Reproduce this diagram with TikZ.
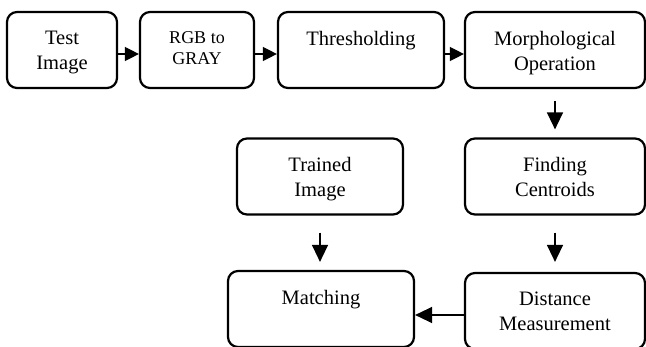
\documentclass[tikz,border=0pt]{standalone}
\usepackage{fontspec}
\setmainfont{Liberation Serif}
\usetikzlibrary{arrows.meta}
\tikzset{stage/.style = {draw, line width = 2.2pt, rounded corners = 10pt,
                         minimum height = 76pt, inner sep = 0}}
\tikzset{caption/.style = {anchor = north, yshift = -20pt, align = center, inner sep = 0,
                           font = \fontsize{20.5}{25}\selectfont}}
\tikzset{small caption/.style = {caption, font = \fontsize{18}{21}\selectfont}}
\tikzset{flow/.style = {-{Triangle[length = 14pt, width = 14pt]}, line width = 1.4pt}}
\tikzset{flow down/.style = {flow, -{Triangle[length = 17pt, width = 16pt]}}}

\begin{document}
\begin{tikzpicture}[x = 1pt, y = 1pt]
      \useasboundingbox (0, 0) rectangle (646, 346);

      % top row
      \node [stage, minimum width = 110pt, label = {[caption]north:Test\\Image}] (test) at (62, 296) {};
      \node [stage, minimum width = 114pt, label = {[small caption]north:RGB to\\GRAY}] (rgb) at (197, 296) {};
      \node [stage, minimum width = 166pt, label = {[caption]north:Thresholding}] (thresh) at (361, 296) {};
      \node [stage, minimum width = 180pt, label = {[caption]north:Morphological\\Operation}] (morph) at (555, 296) {};

      % middle row
      \node [stage, minimum width = 166pt, label = {[caption]north:Trained\\Image}] (trained) at (320, 169.5) {};
      \node [stage, minimum width = 180pt, label = {[caption]north:Finding\\Centroids}] (find) at (555, 169.5) {};

      % bottom row
      \node [stage, minimum width = 186pt, label = {[caption]north:Matching}] (match) at (321, 37) {};
      \node [stage, minimum width = 180pt, label = {[caption]north:Distance\\Measurement}] (dist) at (555, 35) {};

      \draw [flow] ([yshift = -4pt]test.east) -- ([yshift = -4pt]rgb.west);
      \draw [flow] ([yshift = -4pt]rgb.east) -- ([yshift = -4pt]thresh.west);
      \draw [flow] ([yshift = -4pt]thresh.east) -- ([yshift = -4pt]morph.west);
      \draw [flow down, shorten < = 12pt, shorten > = 8pt] (morph) -- (find);
      \draw [flow down, shorten < = 17pt, shorten > = 10pt] (find) -- (dist);
      \draw [flow down, shorten < = 17pt, shorten > = 8pt] (trained.south) -- (trained.south |- match.north);
      \draw [flow down] ([yshift = -4pt]dist.west) -- ([yshift = -4pt]dist.west -| match.east);
    \end{tikzpicture}
\end{document}
